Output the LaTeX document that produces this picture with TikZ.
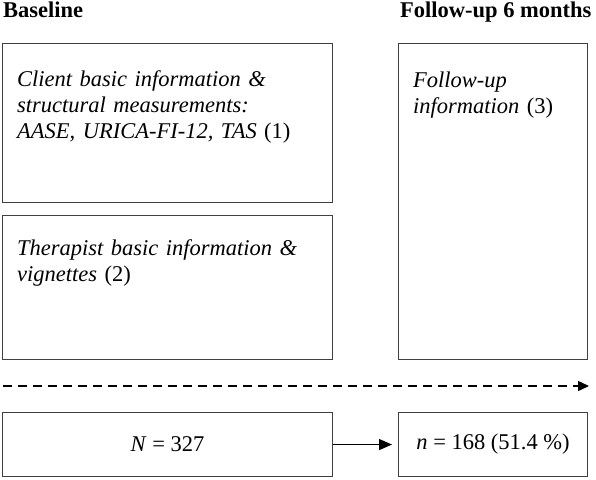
\documentclass[tikz,border=0pt]{standalone}
\usepackage{fontspec}
\setmainfont{Liberation Serif}
\usetikzlibrary{positioning,arrows.meta}

\begin{document}
\begin{tikzpicture}[x=1pt, y=-1pt,
    box/.style={rectangle, draw=black!75, line width=1.1pt, anchor=north west, inner sep=0pt, font=\fontsize{22.5}{26}\selectfont},
    boxtext/.style={anchor=base west, text width=#1, align=left, inner sep=0pt, font=\fontsize{22.5}{26}\selectfont},
    boxtext/.default=300pt,
    heading/.style={anchor=base west, inner sep=0pt, font=\fontsize{22.5}{26}\selectfont\bfseries},
    arrow/.style={-{Triangle[length=13pt,width=11pt]}, line width=1.2pt}
]
\useasboundingbox (0,0) rectangle (596,479);

% Column headings
\node[heading] (baseline) at (3,17) {Baseline};
\node[heading] (followup) at (400,17) {Follow-up 6 months};

% Baseline measurements
\node[box, minimum width=330pt, minimum height=159pt] (client) at (2,43) {};
\node[boxtext] (clienttxt) at (17,86) {\textit{Client basic information \&}\\\textit{structural measurements:}\\\textit{AASE, URICA-FI-12, TAS} (1)};

\node[box, minimum width=330pt, minimum height=144pt] (therapist) at (2,215) {};
\node[boxtext] (therapisttxt) at (17,255) {\textit{Therapist basic information \&}\\\textit{vignettes} (2)};

% Follow-up measurement
\node[box, minimum width=189pt, minimum height=316pt] (follow) at (398,43) {};
\node[boxtext=165pt] (followtxt) at (413,87) {\textit{Follow-up}\\\textit{information} (3)};

% Time line
\coordinate (timestart) at (3,386);
\coordinate (timeend) at (589,386);
\draw[-{Triangle[length=11pt,width=10pt]}, line width=1.4pt, dash pattern=on 9pt off 6pt] (timestart) -- (timeend);

% Sample sizes
\node[box, minimum width=330pt, minimum height=64pt] (basecount) at (2,412) {\textit{N} = 327};
\node[box, minimum width=189pt, minimum height=64pt] (followcount) at (398,412) {\textit{n} = 168 (51.4 \%)};

\draw[arrow, shorten >=6pt] (basecount.east) -- (followcount.west);

\end{tikzpicture}
\end{document}
